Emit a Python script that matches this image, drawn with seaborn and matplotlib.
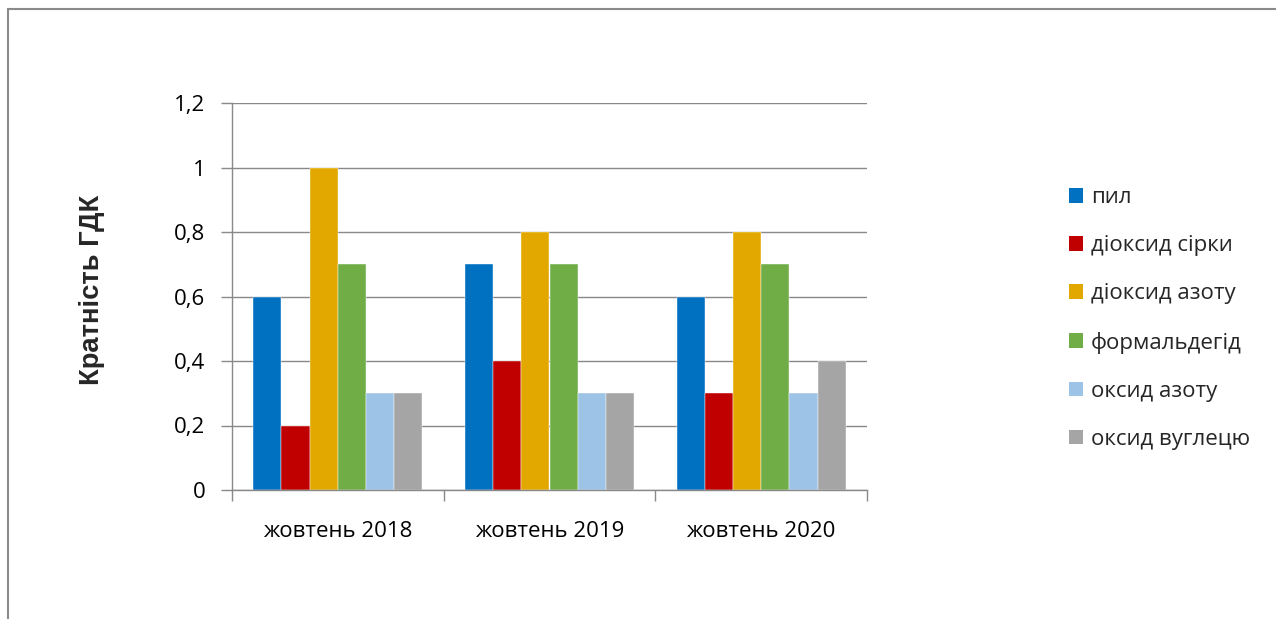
import matplotlib
matplotlib.use("Agg")
import matplotlib.pyplot as plt
from matplotlib.lines import Line2D
from matplotlib.patches import Rectangle
from matplotlib.ticker import FuncFormatter, FixedLocator
import seaborn as sns
import pandas as pd
import numpy as np

periods = ["жовтень 2018", "жовтень 2019", "жовтень 2020"]
pollutants = ["пил", "діоксид сірки", "діоксид азоту", "формальдегід",
              "оксид азоту", "оксид вуглецю"]
pil = [0.6, 0.7, 0.6]
sulfur_dioxide = [0.2, 0.4, 0.3]
nitrogen_dioxide = [1.0, 0.8, 0.8]
formaldehyde = [0.7, 0.7, 0.7]
nitrogen_oxide = [0.3, 0.3, 0.3]
carbon_oxide = [0.3, 0.3, 0.4]
colors = ["#0070C0", "#C00000", "#E3A800", "#70AD47", "#9DC3E6", "#A5A5A5"]
y_label = "Кратність ГДК"

series = [pil, sulfur_dioxide, nitrogen_dioxide, formaldehyde,
          nitrogen_oxide, carbon_oxide]
rows = []
for name, vals in zip(pollutants, series):
    for p, v in zip(periods, vals):
        rows.append({"period": p, "pollutant": name, "value": v})
df = pd.DataFrame(rows)

sns.set_theme(style="white")
plt.rcParams["font.family"] = ["Open Sans", "DejaVu Sans"]

W, H = 1276, 619
fig = plt.figure(figsize=(W / 100, H / 100), dpi=100)
ax = fig.add_axes([232 / W, 1 - 490 / H, (867 - 232) / W, (490 - 103) / H])

sns.barplot(data=df, x="period", y="value", hue="pollutant",
            order=periods, hue_order=pollutants, palette=colors,
            saturation=1, width=0.8, ax=ax, legend=False, errorbar=None,
            edgecolor="white", linewidth=0.3)

ax.set_xlim(-0.5, 2.5)
ax.set_ylim(0, 1.2)
ax.set_yticks(np.arange(0, 1.21, 0.2))
ax.yaxis.set_major_formatter(FuncFormatter(
    lambda v, _: ("%g" % round(v, 1)).replace(".", ",")))
ax.grid(axis="y", color="#898989", linewidth=1.0)
ax.set_axisbelow(True)

for s in ["top", "right"]:
    ax.spines[s].set_visible(False)
for s in ["left", "bottom"]:
    ax.spines[s].set_color("#898989")
    ax.spines[s].set_linewidth(1.0)

# category labels centered, tick marks on category boundaries
ax.set_xticks([0, 1, 2])
ax.set_xticklabels(periods)
ax.tick_params(axis="x", length=0, pad=22, labelsize=16, colors="black")
ax.xaxis.set_minor_locator(FixedLocator([-0.5, 0.5, 1.5, 2.5]))
ax.tick_params(axis="x", which="minor", bottom=True, length=8,
               color="#898989", width=1.0)
ax.tick_params(axis="y", left=True, length=8, color="#898989", width=1.0,
               labelsize=16, pad=11, labelcolor="black")

ax.set_xlabel("")
ax.set_ylabel(y_label, fontsize=19.7, fontweight="bold",
              family=["Liberation Sans Narrow", "Liberation Sans", "DejaVu Sans"],
              labelpad=0, va="center")
ax.yaxis.set_label_coords((92 - 232) / (867 - 232), (490 - 290) / (490 - 103))

handles = [Rectangle((0, 0), 1, 1, facecolor=c, edgecolor="none") for c in colors]
fig.legend(handles, pollutants, loc="center left",
           bbox_to_anchor=(1069 / W, 1 - 318.5 / H),
           frameon=False, fontsize=16, handlelength=0.63,
           handleheight=0.63, handletextpad=0.36, labelspacing=1.22,
           borderaxespad=0, borderpad=0)

# outer chart frame
frame_color = "#8a8a8a"
fig.add_artist(Line2D([8 / W, 1.0], [1 - 8.5 / H, 1 - 8.5 / H],
                      transform=fig.transFigure, color=frame_color, linewidth=1.5))
fig.add_artist(Line2D([8 / W, 8 / W], [0.0, 1 - 8.5 / H],
                      transform=fig.transFigure, color=frame_color, linewidth=1.5))

fig.savefig("out.png", dpi=100, facecolor="white")
